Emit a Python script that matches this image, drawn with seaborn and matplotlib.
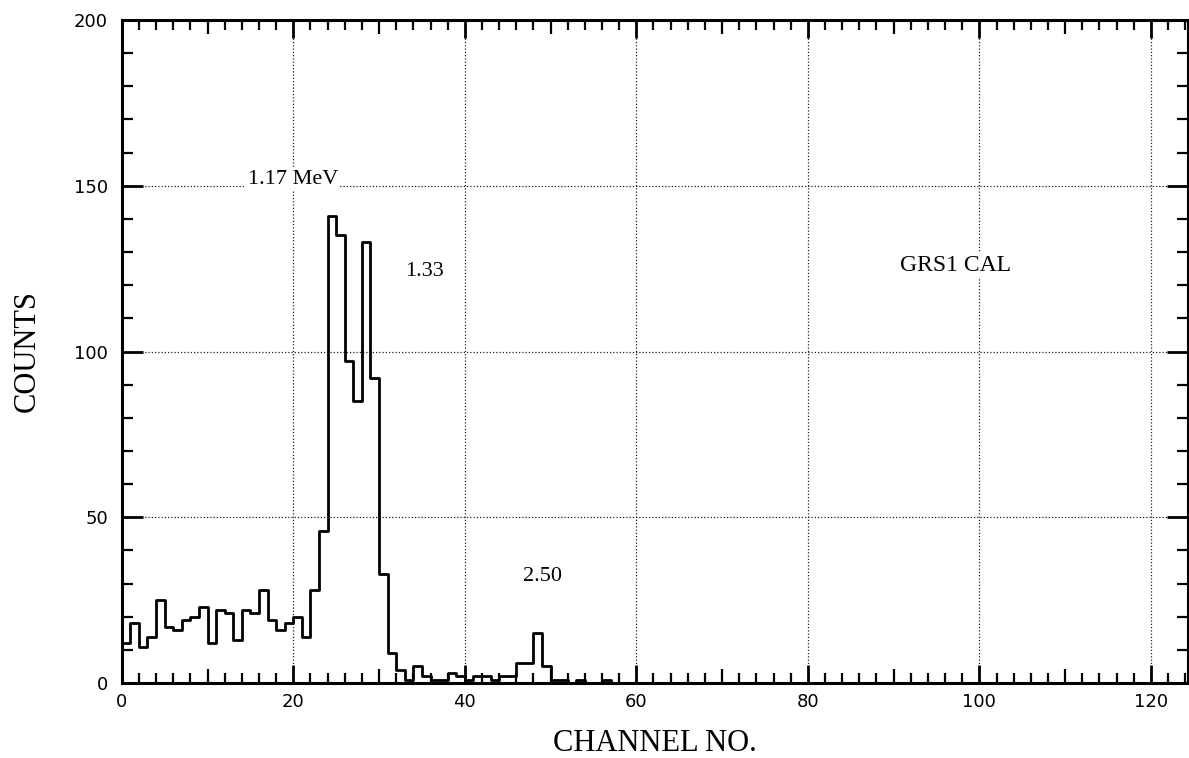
import numpy as np
import pandas as pd
import matplotlib
matplotlib.use("Agg")
import matplotlib.pyplot as plt
from matplotlib.ticker import MultipleLocator, FixedLocator
import seaborn as sns

# Pulse-height spectrum, counts per channel (channels 0-49)
low_counts = [12, 18, 11, 14, 25, 17, 16, 19, 20, 23,
              12, 22, 21, 13, 22, 21, 28, 19, 16, 18,
              20, 14, 28, 46, 141, 135, 97, 85, 133, 92,
              33, 9, 4, 1, 5, 2, 1, 1, 3, 2,
              1, 2, 2, 1, 2, 2, 6, 6, 15, 5]
# Channels 50-124: essentially empty
tail_counts = [1, 1, 0, 1, 0, 0, 1, 0, 0, 0,
               0, 0, 0, 0, 0, 0, 0, 0, 0, 0,
               0, 0, 0, 0, 0, 0, 0, 0, 0, 0,
               0, 0, 0, 0, 0, 0, 0, 0, 0, 0,
               0, 0, 0, 0, 0, 0, 0, 0, 0, 0,
               0, 0, 0, 0, 0, 0, 0, 0, 0, 0,
               0, 0, 0, 0, 0, 0, 0, 0, 0, 0,
               0, 0, 0, 0, 0]

peak_labels = ["1.17 MeV", "1.33", "2.50"]
peak_label_x = [14.7, 33.0, 46.8]
peak_label_y = [152, 124, 32]
title_text = "GRS1 CAL"
x_label = "CHANNEL NO."
y_label = "COUNTS"

counts = low_counts + tail_counts
channels = np.arange(len(counts)) + 0.5
df = pd.DataFrame({"channel": channels, "counts": counts})

sns.set_style("ticks")
plt.rcParams["font.family"] = ["DejaVu Sans"]
plt.rcParams["text.color"] = "black"
plt.rcParams["axes.labelcolor"] = "black"
plt.rcParams["xtick.color"] = "black"
plt.rcParams["ytick.color"] = "black"

fig = plt.figure(figsize=(11.89, 7.58), dpi=100)
ax = fig.add_axes([0.1024, 0.0989, 0.8966, 0.8747])

sns.histplot(data=df, x="channel", weights="counts",
             bins=len(counts), binrange=(0, len(counts)),
             element="step", fill=False, color="black",
             linewidth=2.0, ax=ax)

ax.set_xlim(0, 124.3)
ax.set_ylim(0, 200)

# Dotted grid
for gx in range(20, 121, 20):
    ax.axvline(gx, color="#222222", lw=0.9, ls=(0, (1, 1.6)), zorder=0)
for gy in (50, 100, 150):
    ax.axhline(gy, color="#222222", lw=0.9, ls=(0, (1, 1.6)), zorder=0)

# Ticks
ax.xaxis.set_major_locator(MultipleLocator(20))
x_minor = [v for v in range(2, 125, 2) if v % 20 != 0]
ax.xaxis.set_minor_locator(FixedLocator(x_minor))
ax.yaxis.set_major_locator(MultipleLocator(50))
y_minor = [v for v in range(10, 200, 10) if v % 50 != 0]
ax.yaxis.set_minor_locator(FixedLocator(y_minor))

ax.tick_params(axis="both", which="both", direction="in",
               top=True, right=True, colors="black")
ax.tick_params(axis="x", which="major", length=13, width=2.0, pad=7,
               labelsize=13)
ax.tick_params(axis="x", which="minor", length=7, width=1.6)
ax.tick_params(axis="y", which="major", length=15, width=2.0, pad=10,
               labelsize=13)
ax.tick_params(axis="y", which="minor", length=8, width=1.6)

# Slightly longer ticks every 10 channels
for tick, loc in zip(ax.xaxis.get_minor_ticks(len(x_minor)), x_minor):
    if loc % 10 == 0:
        tick.tick1line.set_markersize(10)
        tick.tick2line.set_markersize(10)

for s in ax.spines.values():
    s.set_linewidth(2.2)
    s.set_color("black")

ax.set_xlabel(x_label, family="Liberation Serif", fontsize=22, labelpad=13,
              color="black")
ax.set_ylabel(y_label, family="Liberation Serif", fontsize=22, labelpad=23,
              color="black")

label_box = dict(facecolor="white", edgecolor="none", pad=1.0)
for txt, tx, ty in zip(peak_labels, peak_label_x, peak_label_y):
    ax.text(tx, ty, txt, family="Liberation Serif", fontsize=16,
            ha="left", va="center", color="black", bbox=label_box)

ax.text(90.7, 126, title_text, family="Liberation Serif", fontsize=17,
        ha="left", va="center", color="black", bbox=label_box)

fig.savefig("out.png", dpi=100)
